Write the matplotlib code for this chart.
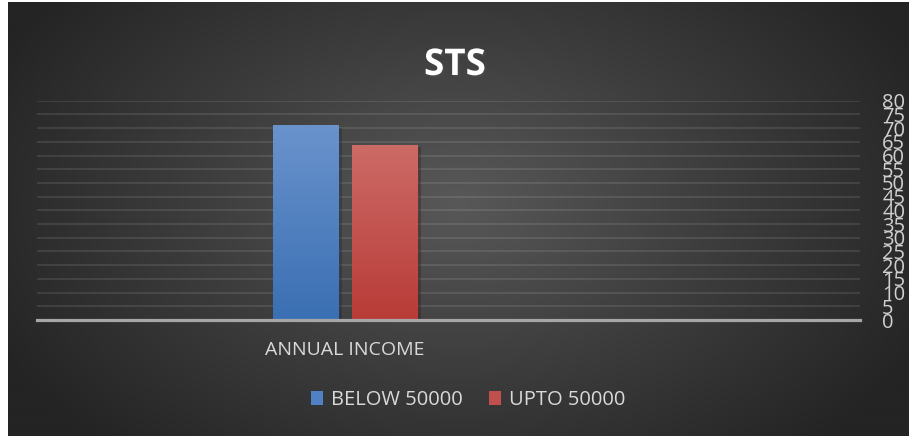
import numpy as np
import matplotlib
matplotlib.use('Agg')
import matplotlib.pyplot as plt
import matplotlib.patheffects as pe
from matplotlib.colors import LinearSegmentedColormap

plt.rcParams['font.family'] = ['Open Sans', 'DejaVu Sans']

# data
categories = ['ANNUAL INCOME']
series_names = ['BELOW 50000', 'UPTO 50000']
below_50000 = [71]
upto_50000 = [64]
y_ticks = list(range(0, 85, 5))

W, H = 909, 436
fig = plt.figure(figsize=(W / 100, H / 100), dpi=100, facecolor='white')

# dark radial background
bg = fig.add_axes([8 / W, 0, 1 - 8 / W, 434 / H])
bg.set_axis_off()
yy, xx = np.mgrid[0:434, 0:901]
cx, cy = 450, 200
d = np.sqrt(((xx - cx) / 520.0) ** 2 + ((yy - cy) / 330.0) ** 2)
d = np.clip(d, 0, 1)
bg_cmap = LinearSegmentedColormap.from_list('bg', ['#585858', '#3d3d3d', '#242424'])
bg.imshow(d, cmap=bg_cmap, aspect='auto', vmin=0, vmax=1)

ax = fig.add_axes([37 / W, (H - 320) / H, 823 / W, 219.3 / H])
ax.patch.set_alpha(0)

width = 0.4
gap = 0.086
x = np.arange(len(categories))
b1 = ax.bar(x - (width + gap) / 2, below_50000, width, color='#4f81c4', label=series_names[0], zorder=3)
b2 = ax.bar(x + (width + gap) / 2, upto_50000, width, color='#c0504d', label=series_names[1], zorder=3)

# vertical gradient fill for the bars
grad = np.linspace(0, 1, 256).reshape(-1, 1)
for bars, top, bot in [(b1, '#6a93cc', '#3a6fb3'), (b2, '#cd6b67', '#b83b37')]:
    cm = LinearSegmentedColormap.from_list('g', [bot, top])
    for p in bars:
        p.set_path_effects([pe.SimplePatchShadow(offset=(3, -2), alpha=0.35, rho=0.3), pe.Normal()])
        x0, y0 = p.get_x(), p.get_y()
        im = ax.imshow(grad, cmap=cm, aspect='auto', origin='lower',
                       extent=[x0, x0 + p.get_width(), y0, y0 + p.get_height()], zorder=4)
        im.set_clip_path(p)

ax.set_xlim(-1.895, 3.169)
ax.set_ylim(0, 80)
ax.set_yticks(y_ticks)
ax.yaxis.tick_right()
ax.tick_params(axis='y', length=0, pad=16, labelsize=14.5, labelcolor='#d0d0d0')
ax.set_xticks(x)
ax.set_xticklabels(categories)
ax.tick_params(axis='x', length=0, pad=15, labelsize=14, labelcolor='#d9d9d9')
ax.grid(axis='y', color='white', alpha=0.1, linewidth=1.4, zorder=1)
for s in ['top', 'left', 'right']:
    ax.spines[s].set_visible(False)
ax.spines['bottom'].set_color('#a6a6a6')
ax.spines['bottom'].set_linewidth(2.3)
ax.spines['bottom'].set_zorder(5)

fig.text(455 / W, (H - 65) / H, 'STS', ha='center', va='center', fontsize=26.5,
         fontweight='bold', color='white',
         path_effects=[pe.withSimplePatchShadow(offset=(1.5, -1.5), alpha=0.6)])

leg = fig.legend(handles=[b1, b2], labels=series_names, loc='center', ncol=2,
                 bbox_to_anchor=(468 / W, (H - 400) / H), frameon=False,
                 fontsize=14.5, labelcolor='#d9d9d9', handlelength=0.6,
                 handleheight=0.7, handletextpad=0.4, columnspacing=1.3)
for h in leg.legend_handles:
    h.set_path_effects([])

fig.savefig('out.png', dpi=100, facecolor=fig.get_facecolor())
